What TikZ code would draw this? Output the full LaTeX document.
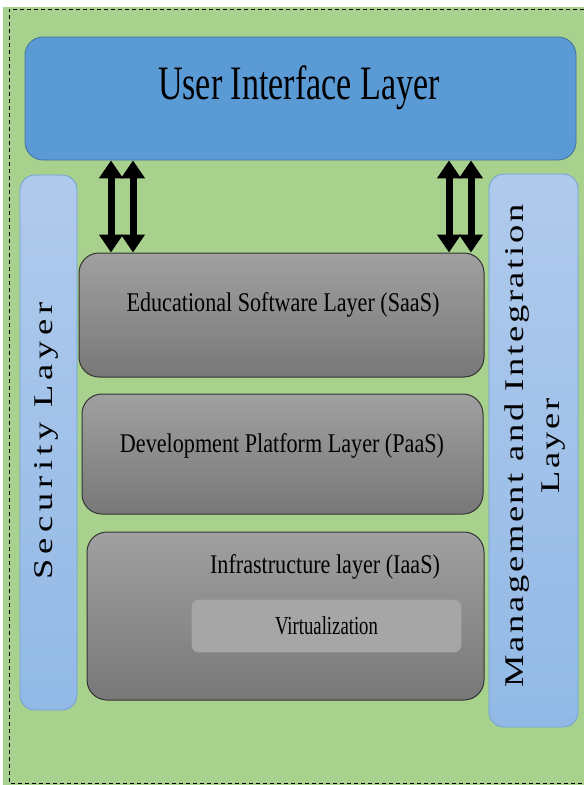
\documentclass[tikz,border=0pt]{standalone}
\usepackage{fontspec}
\setmainfont{Liberation Serif}
\newfontfamily\uifont[FakeStretch=0.71]{Liberation Serif}
\newfontfamily\layerfont[FakeStretch=0.82]{Liberation Serif}
\newfontfamily\virtfont[FakeStretch=0.72]{Liberation Serif}
\newfontfamily\sidefont[FakeStretch=1.35,LetterSpace=10]{Liberation Serif}
\newfontfamily\secfont[FakeStretch=1.35,LetterSpace=19]{Liberation Serif}
\usetikzlibrary{arrows.meta}
\definecolor{bggreen}{RGB}{169,209,142}
\definecolor{uiblue}{RGB}{91,155,213}
\definecolor{uiedge}{RGB}{65,113,156}
\definecolor{sidetop}{RGB}{176,202,236}
\definecolor{sidebot}{RGB}{146,185,230}
\definecolor{sideedge}{RGB}{110,160,220}
\definecolor{graytop}{RGB}{160,160,160}
\definecolor{graybot}{RGB}{120,120,120}
\definecolor{virtfill}{RGB}{166,166,166}
\tikzset{
  uibox/.style={draw=uiedge, fill=uiblue, rounded corners=18pt, line width=0.8pt, inner sep=0pt},
  sidebox/.style={draw=sideedge, top color=sidetop, bottom color=sidebot, rounded corners=15pt, line width=0.8pt, inner sep=0pt},
  layerbox/.style={draw=black!80, top color=graytop, bottom color=graybot, rounded corners=20pt, line width=1pt, inner sep=0pt},
  virtbox/.style={draw=black!35, fill=virtfill, rounded corners=7pt, line width=0.6pt, inner sep=0pt},
  layertext/.style={font=\layerfont\fontsize{27}{32}\selectfont},
  sidetext/.style={font=\sidefont\fontsize{27}{36}\selectfont, rotate=90, align=center},
  dblarrow/.style={{Triangle[width=23pt,length=18pt]}-{Triangle[width=23pt,length=18pt]}, line width=7pt},
}
\begin{document}
\begin{tikzpicture}[x=1pt,y=-1pt]
  \useasboundingbox (0,0) rectangle (584,785);
  \fill[white] (0,0) rectangle (584,785);
  \fill[bggreen] (3,7) rectangle (584,785);
  \draw[dashed, dash pattern=on 4pt off 3pt, line width=0.9pt] (584,9) -- (9,9) -- (9,783) -- (584,783);
  % layers
  \node[uibox, minimum width=551pt, minimum height=123pt] (ui) at (300.5,98.5) {};
  \node[font=\uifont\fontsize{48}{54}\selectfont] (uitext) at (299,88) {User Interface Layer};
  \node[sidebox, minimum width=57pt, minimum height=535pt] (sec) at (48.5,442.5) {};
  \node[sidetext, font=\secfont\fontsize{27}{36}\selectfont] (sectext) at (46,441) {Security Layer};
  \node[sidebox, minimum width=89pt, minimum height=553pt] (mgmt) at (533.5,450.5) {};
  \node[sidetext] (mgmttext) at (535,446) {Management and Integration\\Layer};
  \node[layerbox, minimum width=405pt, minimum height=124pt] (saas) at (281.5,315) {};
  \node[layertext] (saastext) at (283,305) {Educational Software Layer (SaaS)};
  \node[layerbox, minimum width=401pt, minimum height=120pt] (paas) at (282.5,454) {};
  \node[layertext] (paastext) at (282,446) {Development Platform Layer (PaaS)};
  \node[layerbox, minimum width=397pt, minimum height=168pt] (iaas) at (285.5,616) {};
  \node[layertext] (iaastext) at (325,567) {Infrastructure layer (IaaS)};
  \node[virtbox, minimum width=269pt, minimum height=52pt, font=\virtfont\fontsize{26}{30}\selectfont] (virt) at (326.5,626) {Virtualization};
  % arrows between UI and SaaS
  \foreach \x in {111,133,449,471} \draw[dblarrow] (ui.south -| \x,0) -- (saas.north -| \x,0);
\end{tikzpicture}
\end{document}
